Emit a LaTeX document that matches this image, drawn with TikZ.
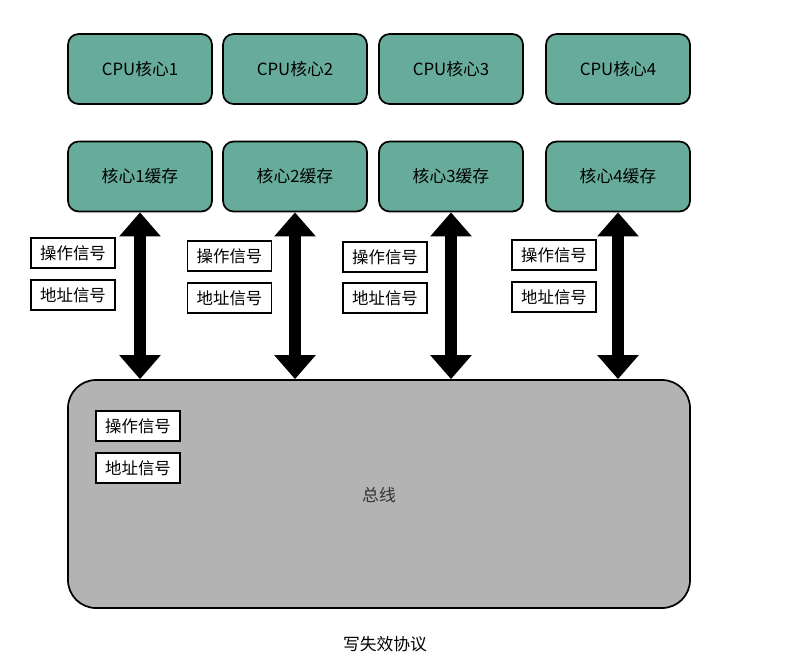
\documentclass[tikz,border=0pt]{standalone}
\usepackage{fontspec}
\setmainfont{Noto Sans CJK SC}
\usepackage{tikz}
\usetikzlibrary{arrows.meta,positioning}

\definecolor{coreteal}{HTML}{67AC9B}
\definecolor{busgray}{HTML}{B3B3B3}

\tikzset{
    corebox/.style={draw, line width=1.3pt, fill=coreteal, rounded corners=8pt,
        minimum width=108pt, minimum height=52.5pt, font=\fontsize{12.6}{14}\selectfont},
    sigbox/.style={draw, line width=1.2pt, fill=white, inner sep=0pt,
        minimum width=63pt, minimum height=22.5pt, font=\fontsize{12.3}{14}\selectfont},
    busbox/.style={draw, line width=1.3pt, fill=busgray, rounded corners=21pt,
        minimum width=466.5pt, minimum height=171pt},
    busarrow/.style={line width=9.5pt, {Triangle[width=30pt,length=18pt]}-{Triangle[width=30pt,length=18pt]}}
}

\begin{document}
\begin{tikzpicture}[x=0.75pt, y=-0.75pt]
    \useasboundingbox (0,0) rectangle (807,665);

    % Cores and caches
    \foreach \i/\x in {1/140, 2/295, 3/451, 4/618} {
        \node[corebox] (cpu\i) at (\x, 69) {CPU核心{\i}};
        \node[corebox] (cache\i) at (\x, 176.5) {核心{\i}缓存};
    }

    % Bus
    \node[busbox] (bus) at (379, 494) {};
    \node[font=\fontsize{12.6}{14}\selectfont, text=black!80] (busname) at (379, 495) {总线};

    % Signals next to each link
    \foreach \i/\x/\ya/\yb in {1/73/253/295, 2/229.5/256/298, 3/385/257/298, 4/554/255/297} {
        \node[sigbox] (op\i) at (\x, \ya) {操作信号};
        \node[sigbox] (addr\i) at (\x, \yb) {地址信号};
    }
    \node[sigbox] (busop) at (138, 426) {操作信号};
    \node[sigbox] (busaddr) at (138, 468) {地址信号};

    % Links between caches and bus
    \foreach \i in {1,...,4} {
        \draw[busarrow] (cache\i.south) -- (cache\i.south |- bus.north);
    }

    \node[font=\fontsize{12.6}{14}\selectfont] (caption) at (385, 644) {写失效协议};
\end{tikzpicture}
\end{document}
